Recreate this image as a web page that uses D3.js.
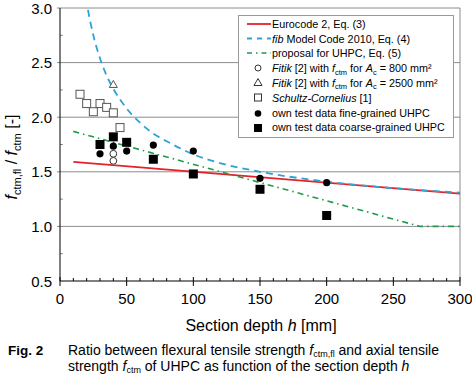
<!DOCTYPE html>
<html>
<head>
<meta charset="utf-8">
<script src="https://cdn.jsdelivr.net/npm/d3@7"></script>
<style>
  body { margin: 0; background: #fff; }
  svg { font-family: "Liberation Sans", Arial, sans-serif; }
</style>
</head>
<body>
<div id="chart"></div>
<script>
// data
const ec2H = [10, 300];
const ec2R = [1.59, 1.30];

const fibH = [18, 20, 25, 30, 35, 40, 50, 60, 70, 80, 100, 120, 150, 200, 250, 300];
const fibR = [3.20, 3.05, 2.75, 2.54, 2.38, 2.26, 2.08, 1.95, 1.85, 1.78, 1.66, 1.58, 1.50, 1.41, 1.35, 1.31];

const propH = [10, 270, 300];
const propR = [1.87, 1.0, 1.0];

const fitik800H = [40, 40];
const fitik800R = [1.60, 1.665];

const fitik2500H = [40];
const fitik2500R = [2.30];

const schultzH = [15, 20, 25, 30, 35, 40, 45];
const schultzR = [2.21, 2.125, 2.05, 2.125, 2.09, 2.04, 1.905];

const fineH = [30, 40, 50, 70, 100, 150, 200];
const fineR = [1.665, 1.735, 1.69, 1.745, 1.69, 1.44, 1.40];

const coarseH = [30, 40, 50, 70, 100, 150, 200];
const coarseR = [1.75, 1.82, 1.77, 1.615, 1.48, 1.34, 1.10];

const xTicks = [0, 50, 100, 150, 200, 250, 300];
const yTicks = [0.5, 1.0, 1.5, 2.0, 2.5, 3.0];

const W = 472, H = 375;
const margin = { top: 8, right: 12, bottom: 94, left: 60 };

const svg = d3.select("#chart")
  .append("svg")
  .attr("width", W)
  .attr("height", H);

const x = d3.scaleLinear().domain([0, 300]).range([margin.left, W - margin.right]);
const y = d3.scaleLinear().domain([0.5, 3.0]).range([H - margin.bottom, margin.top]);

const zip = (a, b) => a.map((v, i) => [v, b[i]]);

svg.append("clipPath").attr("id", "plot")
  .append("rect")
  .attr("x", x(0)).attr("y", y(3.0))
  .attr("width", x(300) - x(0)).attr("height", y(0.5) - y(3.0));

// gridlines
svg.append("g").selectAll("line")
  .data(yTicks.filter(d => d > 0.5))
  .enter().append("line")
  .attr("x1", x(0) - 3).attr("x2", x(300))
  .attr("y1", d => y(d)).attr("y2", d => y(d))
  .attr("stroke", "#8c8c8c").attr("stroke-width", 1);

// right border
svg.append("line")
  .attr("x1", x(300)).attr("x2", x(300))
  .attr("y1", y(3.0)).attr("y2", y(0.5))
  .attr("stroke", "#8c8c8c");

// y minor ticks inside
svg.append("g").selectAll("line")
  .data(d3.range(0.75, 3.0, 0.5))
  .enter().append("line")
  .attr("x1", x(0)).attr("x2", x(0) + 3)
  .attr("y1", d => y(d)).attr("y2", d => y(d))
  .attr("stroke", "#8c8c8c");

// y axis
svg.append("line")
  .attr("x1", x(0)).attr("x2", x(0))
  .attr("y1", y(3.0)).attr("y2", y(0.5))
  .attr("stroke", "#000");

svg.append("g").selectAll("text")
  .data(yTicks)
  .enter().append("text")
  .attr("x", x(0) - 8)
  .attr("y", d => y(d) + 5.5)
  .attr("text-anchor", "end")
  .attr("font-size", 15)
  .text(d => d.toFixed(1));

// x axis
svg.append("line")
  .attr("x1", x(0)).attr("x2", x(300))
  .attr("y1", y(0.5)).attr("y2", y(0.5))
  .attr("stroke", "#000");

svg.append("g").selectAll("line")
  .data(d3.range(0, 301, 10))
  .enter().append("line")
  .attr("x1", d => x(d)).attr("x2", d => x(d))
  .attr("y1", d => d % 50 === 0 ? y(0.5) - 4 : y(0.5) - 3)
  .attr("y2", d => d % 50 === 0 ? y(0.5) + 5 : y(0.5))
  .attr("stroke", "#000");

svg.append("g").selectAll("text")
  .data(xTicks)
  .enter().append("text")
  .attr("x", d => x(d))
  .attr("y", 304)
  .attr("text-anchor", "middle")
  .attr("font-size", 15)
  .text(d => d);

// axis titles
const xt = svg.append("text")
  .attr("x", x(150) + 1).attr("y", 331)
  .attr("text-anchor", "middle")
  .attr("font-size", 16);
xt.append("tspan").text("Section depth ");
xt.append("tspan").attr("font-style", "italic").text("h");
xt.append("tspan").text(" [mm]");

const yt = svg.append("text")
  .attr("transform", "translate(17,157) rotate(-90)")
  .attr("text-anchor", "middle")
  .attr("font-size", 16);
yt.append("tspan").attr("font-style", "italic").text("f");
yt.append("tspan").attr("font-size", 11).attr("dy", 4).text("ctm,fl");
yt.append("tspan").attr("dy", -4).text(" / ");
yt.append("tspan").attr("font-style", "italic").text("f");
yt.append("tspan").attr("font-size", 11).attr("dy", 4).text("ctm");
yt.append("tspan").attr("dy", -4).text(" [-]");

// lines
const line = d3.line().x(d => x(d[0])).y(d => y(d[1]));
const plotG = svg.append("g").attr("clip-path", "url(#plot)");

plotG.append("path")
  .attr("d", line(zip(ec2H, ec2R)))
  .attr("fill", "none").attr("stroke", "#e4222b").attr("stroke-width", 1.8);

plotG.append("path")
  .attr("d", line.curve(d3.curveMonotoneX)(zip(fibH, fibR)))
  .attr("fill", "none").attr("stroke", "#2aa3d8").attr("stroke-width", 1.8)
  .attr("stroke-dasharray", "7,5");

line.curve(d3.curveLinear);
plotG.append("path")
  .attr("d", line(zip(propH, propR)))
  .attr("fill", "none").attr("stroke", "#1e9a4a").attr("stroke-width", 1.6)
  .attr("stroke-dasharray", "6,4,1.5,4");

// markers
const markers = svg.append("g");

markers.selectAll(".sc").data(zip(schultzH, schultzR)).enter()
  .append("rect")
  .attr("x", d => x(d[0]) - 4).attr("y", d => y(d[1]) - 4)
  .attr("width", 8).attr("height", 8)
  .attr("fill", "#fff").attr("stroke", "#555").attr("stroke-width", 1);

markers.selectAll(".tri").data(zip(fitik2500H, fitik2500R)).enter()
  .append("path")
  .attr("transform", d => `translate(${x(d[0])},${y(d[1])})`)
  .attr("d", "M0,-4L4,3L-4,3Z")
  .attr("fill", "#fff").attr("stroke", "#555");

markers.selectAll(".fc").data(zip(coarseH, coarseR)).enter()
  .append("rect")
  .attr("x", d => x(d[0]) - 4.5).attr("y", d => y(d[1]) - 4.5)
  .attr("width", 9).attr("height", 9)
  .attr("fill", "#000");

markers.selectAll(".oc").data(zip(fitik800H, fitik800R)).enter()
  .append("circle")
  .attr("cx", d => x(d[0])).attr("cy", d => y(d[1]))
  .attr("r", 3.4)
  .attr("fill", "#fff").attr("stroke", "#333");

markers.selectAll(".fi").data(zip(fineH, fineR)).enter()
  .append("circle")
  .attr("cx", d => x(d[0])).attr("cy", d => y(d[1]))
  .attr("r", 3.6)
  .attr("fill", "#000");

// legend
const lg = svg.append("g");
lg.append("rect")
  .attr("x", 238.5).attr("y", 15.5).attr("width", 215).attr("height", 122)
  .attr("fill", "#fff").attr("stroke", "#999");

const legendRows = [24, 38.5, 53, 68, 82.5, 97.5, 112.5, 127];
const lx = 272, sx = 258, fs = 10.8;

function legText(i) {
  return lg.append("text").attr("x", lx).attr("y", legendRows[i] + 4).attr("font-size", fs);
}

lg.append("line").attr("x1", 247).attr("x2", 271)
  .attr("y1", legendRows[0]).attr("y2", legendRows[0])
  .attr("stroke", "#e4222b").attr("stroke-width", 1.8);
legText(0).text("Eurocode 2, Eq. (3)");

lg.append("line").attr("x1", 247).attr("x2", 271)
  .attr("y1", legendRows[1]).attr("y2", legendRows[1])
  .attr("stroke", "#2aa3d8").attr("stroke-width", 1.8).attr("stroke-dasharray", "5,5");
let t = legText(1);
t.append("tspan").attr("font-style", "italic").text("fib");
t.append("tspan").text(" Model Code 2010, Eq. (4)");

lg.append("line").attr("x1", 247).attr("x2", 271)
  .attr("y1", legendRows[2]).attr("y2", legendRows[2])
  .attr("stroke", "#1e9a4a").attr("stroke-width", 1.6).attr("stroke-dasharray", "5,4,1.5,4");
legText(2).text("proposal for UHPC, Eq. (5)");

lg.append("circle").attr("cx", sx).attr("cy", legendRows[3]).attr("r", 3)
  .attr("fill", "#fff").attr("stroke", "#333");
t = legText(3);
t.append("tspan").attr("font-style", "italic").text("Fitik");
t.append("tspan").text(" [2] with ");
t.append("tspan").attr("font-style", "italic").text("f");
t.append("tspan").attr("font-size", 7.5).attr("dy", 2.5).text("ctm");
t.append("tspan").attr("dy", -2.5).text(" for ");
t.append("tspan").attr("font-style", "italic").text("A");
t.append("tspan").attr("font-size", 7.5).attr("dy", 2.5).text("c");
t.append("tspan").attr("dy", -2.5).text(" = 800 mm²");

lg.append("path").attr("transform", `translate(${sx},${legendRows[4]})`)
  .attr("d", "M0,-4L4,3L-4,3Z").attr("fill", "#fff").attr("stroke", "#333");
t = legText(4);
t.append("tspan").attr("font-style", "italic").text("Fitik");
t.append("tspan").text(" [2] with ");
t.append("tspan").attr("font-style", "italic").text("f");
t.append("tspan").attr("font-size", 7.5).attr("dy", 2.5).text("ctm");
t.append("tspan").attr("dy", -2.5).text(" for ");
t.append("tspan").attr("font-style", "italic").text("A");
t.append("tspan").attr("font-size", 7.5).attr("dy", 2.5).text("c");
t.append("tspan").attr("dy", -2.5).text(" = 2500 mm²");

lg.append("rect").attr("x", sx - 3.5).attr("y", legendRows[5] - 3.5)
  .attr("width", 7).attr("height", 7).attr("fill", "#fff").attr("stroke", "#333");
t = legText(5);
t.append("tspan").attr("font-style", "italic").text("Schultz-Cornelius");
t.append("tspan").text(" [1]");

lg.append("circle").attr("cx", sx).attr("cy", legendRows[6] + 1).attr("r", 3.3).attr("fill", "#000");
legText(6).text("own test data fine-grained UHPC");

lg.append("rect").attr("x", sx - 4).attr("y", legendRows[7] - 3)
  .attr("width", 8).attr("height", 8).attr("fill", "#000");
legText(7).text("own test data coarse-grained UHPC");

// caption
svg.append("text").attr("x", 8).attr("y", 355)
  .attr("font-size", 13.5).attr("font-weight", "bold").text("Fig. 2");

const c1 = svg.append("text").attr("x", 68).attr("y", 355).attr("font-size", 14);
c1.append("tspan").text("Ratio between flexural tensile strength ");
c1.append("tspan").attr("font-style", "italic").text("f");
c1.append("tspan").attr("font-size", 9).attr("dy", 2).text("ctm,fl");
c1.append("tspan").attr("dy", -2).text(" and axial tensile");

const c2 = svg.append("text").attr("x", 68).attr("y", 371).attr("font-size", 14);
c2.append("tspan").text("strength ");
c2.append("tspan").attr("font-style", "italic").text("f");
c2.append("tspan").attr("font-size", 9).attr("dy", 2).text("ctm");
c2.append("tspan").attr("dy", -2).text(" of UHPC as function of the section depth ");
c2.append("tspan").attr("font-style", "italic").text("h");
</script>
</body>
</html>
